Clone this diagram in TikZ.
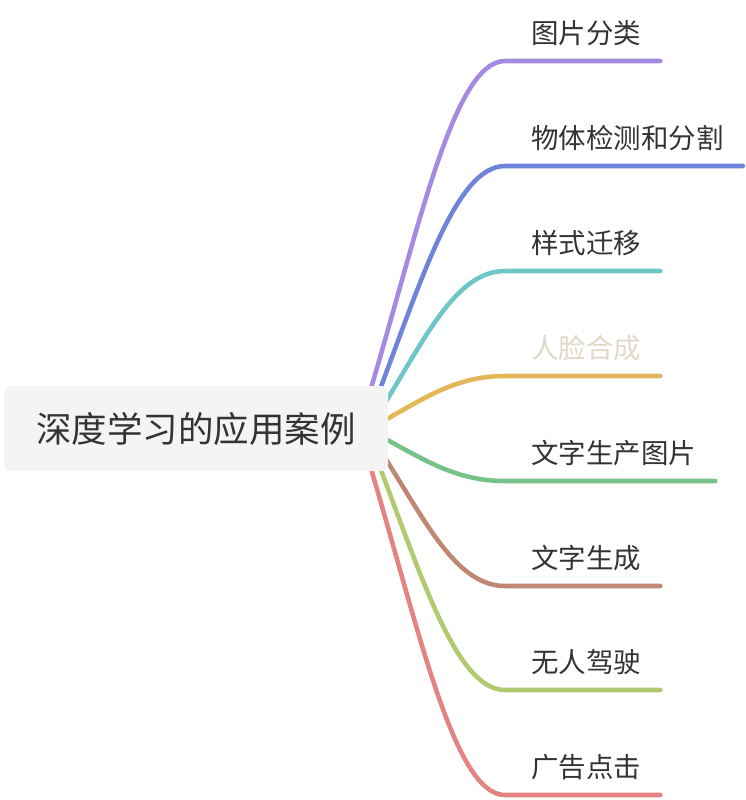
\documentclass[tikz,border=0pt]{standalone}
\usepackage{fontspec}
\usepackage{xcolor}
\usepackage{tikz}
\usetikzlibrary{calc,backgrounds}
\newfontfamily\cjk{Noto Sans CJK SC}
\definecolor{mapText}{RGB}{51,51,51}
\definecolor{mapFaint}{RGB}{224,216,200}
\definecolor{mapRoot}{RGB}{244,244,244}
\definecolor{mapPurple}{RGB}{164,138,224}
\definecolor{mapBlue}{RGB}{111,131,217}
\definecolor{mapTeal}{RGB}{110,198,198}
\definecolor{mapYellow}{RGB}{227,182,87}
\definecolor{mapGreen}{RGB}{119,194,137}
\definecolor{mapBrown}{RGB}{192,135,117}
\definecolor{mapOlive}{RGB}{177,201,111}
\definecolor{mapRed}{RGB}{227,131,131}
\tikzset{
  rootbox/.style={fill=mapRoot, rounded corners=5pt, minimum width=288pt, minimum height=63.75pt,
    text=mapText, font={\cjk\fontsize{26.6pt}{30pt}\selectfont}},
  leaf/.style={anchor=west, inner sep=0pt, text=mapText, font={\cjk\fontsize{20.6pt}{24pt}\selectfont}},
  branch/.style={line width=3.4pt, line cap=round},
}

\begin{document}
\begin{tikzpicture}[x=0.75pt,y=-0.75pt]
\useasboundingbox (0,0) rectangle (746,800);

\node[rootbox] (root) at (196,428.5) {深度学习的应用案例};

\node[leaf] (cls) at (531,33) {图片分类};
\node[leaf] (det) at (531,138) {物体检测和分割};
\node[leaf] (sty) at (531,243) {样式迁移};
\node[leaf, text=mapFaint] (face) at (531,348) {人脸合成};
\node[leaf] (t2i) at (531,453) {文字生产图片};
\node[leaf] (txt) at (531,558) {文字生成};
\node[leaf] (car) at (531,662) {无人驾驶};
\node[leaf] (ads) at (531,767) {广告点击};

% start points under the root box, knees where the lines turn flat
\coordinate (s1) at (366,405); \coordinate (k1) at (505,61);
\coordinate (s2) at (374,405); \coordinate (k2) at (505,166);
\coordinate (s3) at (380,411); \coordinate (k3) at (505,271);
\coordinate (s4) at (378,424); \coordinate (k4) at (505,376);
\coordinate (s5) at (378,435); \coordinate (k5) at (505,481);
\coordinate (s6) at (380,450); \coordinate (k6) at (505,586);
\coordinate (s7) at (374,452); \coordinate (k7) at (505,690);
\coordinate (s8) at (366,452); \coordinate (k8) at (505,795);

\begin{scope}[on background layer]
\draw[branch, mapPurple] (s1) .. controls +(52,-172) and +(-52,0) .. (k1) -- ($(k1 -| cls.east)+(19,0)$);
\draw[branch, mapBlue] (s2) .. controls +(46,-120) and +(-50,0) .. (k2) -- ($(k2 -| det.east)+(19,0)$);
\draw[branch, mapTeal] (s3) .. controls +(44,-70) and +(-50,0) .. (k3) -- ($(k3 -| sty.east)+(19,0)$);
\draw[branch, mapYellow] (s4) .. controls +(44,-24) and +(-51,0) .. (k4) -- ($(k4 -| face.east)+(19,0)$);
\draw[branch, mapGreen] (s5) .. controls +(44,23) and +(-51,0) .. (k5) -- ($(k5 -| t2i.east)+(19,0)$);
\draw[branch, mapBrown] (s6) .. controls +(44,68) and +(-50,0) .. (k6) -- ($(k6 -| txt.east)+(19,0)$);
\draw[branch, mapOlive] (s7) .. controls +(46,119) and +(-50,0) .. (k7) -- ($(k7 -| car.east)+(19,0)$);
\draw[branch, mapRed] (s8) .. controls +(52,172) and +(-52,0) .. (k8) -- ($(k8 -| ads.east)+(19,0)$);
\end{scope}
\end{tikzpicture}
\end{document}
